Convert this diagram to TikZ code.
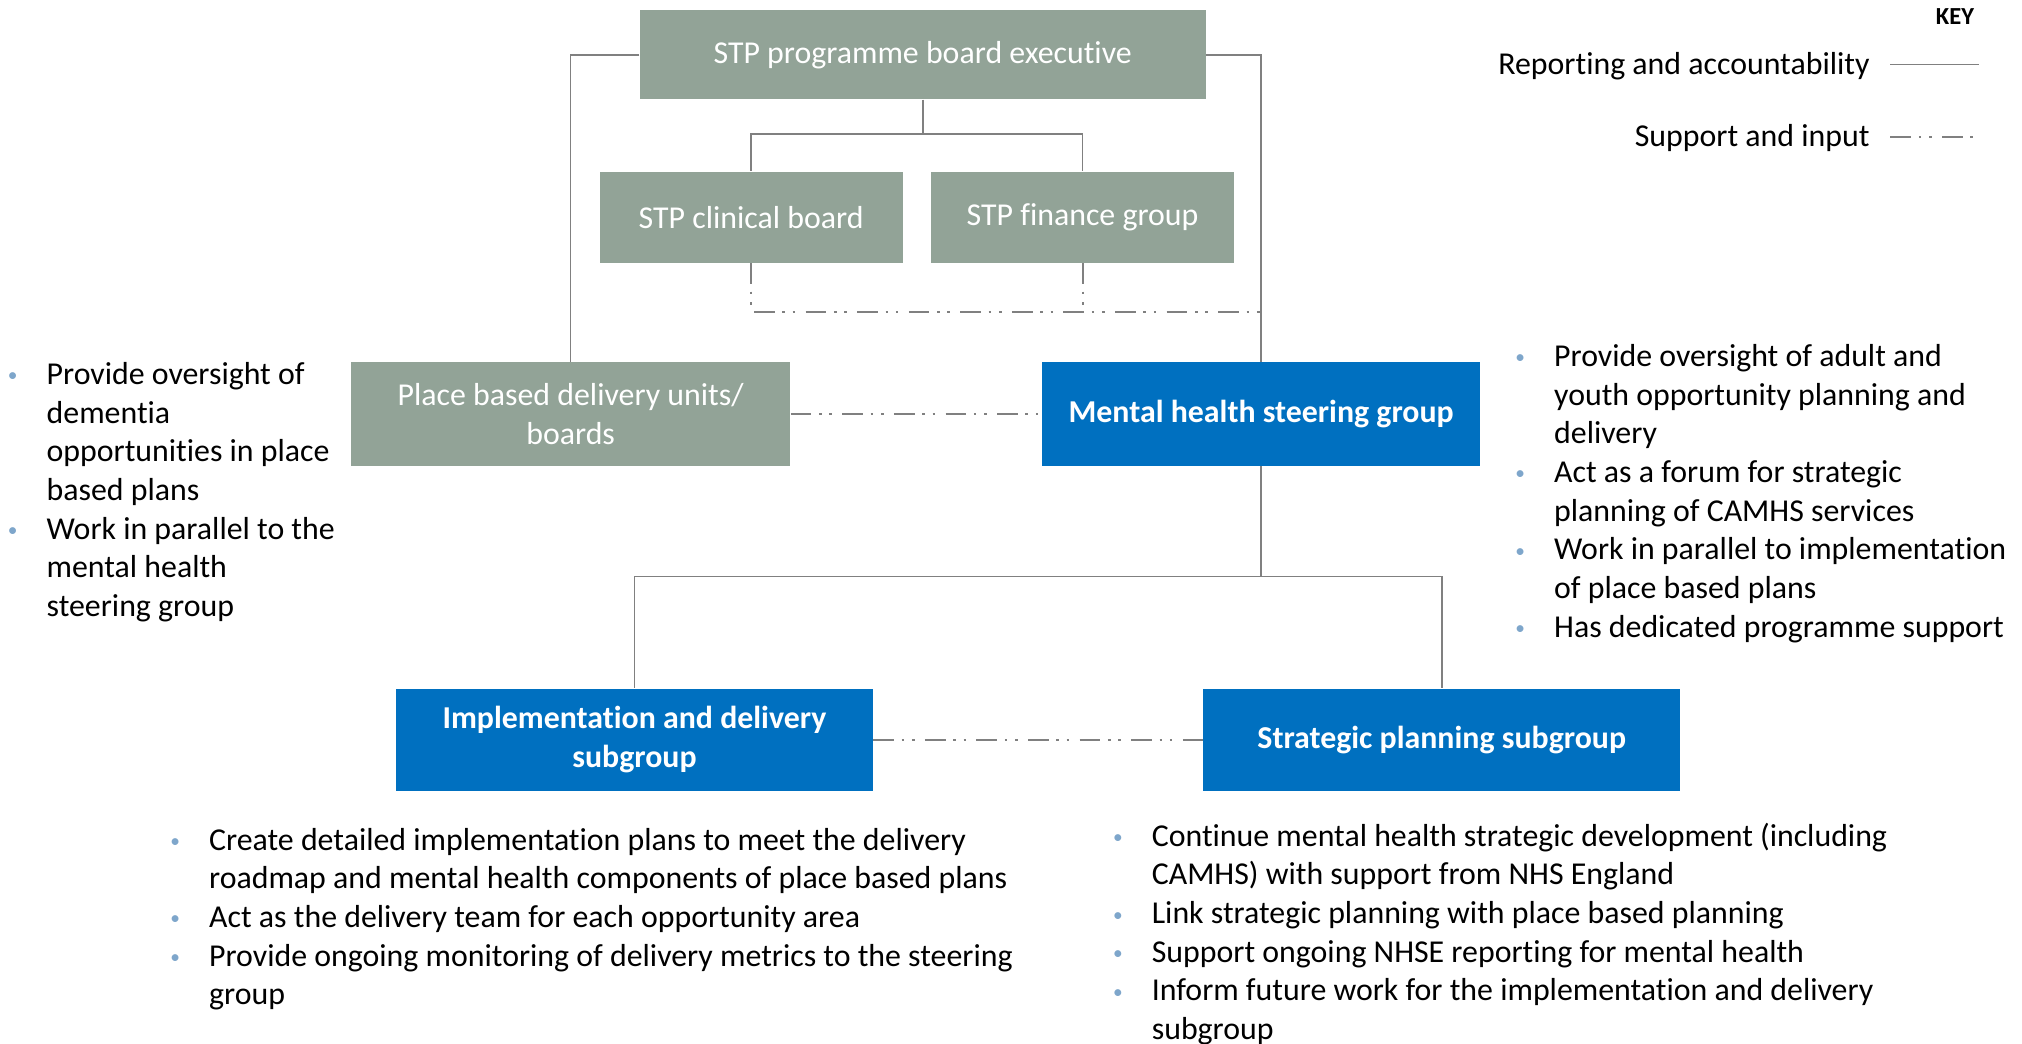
\documentclass[tikz,border=0pt]{standalone}
\usepackage{fontspec}
\setmainfont{Carlito}[Ligatures={NoCommon}]
\usepackage{array}
\definecolor{boxgray}{HTML}{92A397}
\definecolor{nhsblue}{HTML}{0070C0}
\definecolor{linegray}{HTML}{808080}
\definecolor{bulletc}{HTML}{7EA6CB}
\newcommand{\bulmark}{\textcolor{bulletc}{\raisebox{2pt}{\fontsize{15}{15}\selectfont •}}}
\tikzset{
  gbox/.style={fill=boxgray, text=white, inner sep=0pt, align=center, font=\fontsize{24.7}{30}\selectfont},
  bbox/.style={fill=nhsblue, text=white, inner sep=0pt, align=center, font=\fontsize{24.7}{30}\selectfont\bfseries},
  rep/.style={draw=linegray, line width=1.3pt},
  sup/.style={draw=linegray, line width=1.6pt, dash pattern=on 16pt off 6pt on 2pt off 6pt on 2pt off 8pt},
  bullets/.style={anchor=north west, inner sep=0pt, align=left, font=\fontsize{24.7}{30}\selectfont},
  keytext/.style={anchor=east, inner sep=0pt, font=\fontsize{24.7}{30}\selectfont},
}
\begin{document}
\begin{tikzpicture}[x=1pt, y=-1pt]
\useasboundingbox[fill=white] (0,0) rectangle (1568,809);

% boxes
\node[gbox, minimum width=439pt, minimum height=69pt] (exec) at (715.5,42.5) {STP programme board executive};
\node[gbox, minimum width=235pt, minimum height=71pt] (clin) at (582.5,168.5) {STP clinical board};
\node[gbox, minimum width=235pt, minimum height=71pt] (fin) at (839.5,168.5) {STP finance group};
\node[gbox, minimum width=341pt, minimum height=80pt] (place) at (442.5,321) {Place based delivery units/\\boards};
\node[bbox, minimum width=340pt, minimum height=80pt] (mh) at (978,321) {Mental health steering group};
\node[bbox, minimum width=370pt, minimum height=79pt] (impl) at (492,573.5) {Implementation and delivery\\subgroup};
\node[bbox, minimum width=370pt, minimum height=79pt] (strat) at (1118,573.5) {Strategic planning subgroup};

% junctions
\coordinate (t1) at (715.5,104);
\coordinate (j1) at (978,242);
\coordinate (t2) at (978,447);

% reporting lines
\draw[rep] (exec.west) -| (place.north);
\draw[rep] (exec.east) -| (mh.north);
\draw[rep] (exec.south) -- (t1);
\draw[rep] (t1) -| (clin.north);
\draw[rep] (t1) -| (fin.north);
\draw[rep] (mh.south) -- (t2);
\draw[rep] (t2) -| (impl.north);
\draw[rep] (t2) -| (strat.north);

% support lines
\draw[sup] (clin.south) |- (j1);
\draw[sup] (fin.south) -- (fin.south |- j1);
\draw[sup] (place.east) -- (mh.west);
\draw[sup] (impl.east) -- (strat.west);

% key
\node[anchor=east, inner sep=0pt, font=\fontsize{19}{22}\selectfont\bfseries] (key) at (1531,13) {KEY};
\node[keytext] (k1) at (1450,51) {Reporting and accountability};
\node[keytext] (k2) at (1450,107) {Support and input};
\coordinate (k1a) at (1466,50);
\coordinate (k1b) at (1535,50);
\coordinate (k2a) at (1466,106);
\coordinate (k2b) at (1530,106);
\draw[rep] (k1a) -- (k1b);
\draw[sup] (k2a) -- (k2b);

% bullet texts
\node[bullets] (lefttext) at (6,277) {\begin{tabular}{@{}p{30pt}@{}l@{}}
\bulmark & Provide oversight of\\
 & dementia\\
 & opportunities in place\\
 & based plans\\
\bulmark & Work in parallel to the\\
 & mental health\\
 & steering group
\end{tabular}};

\node[bullets] (righttext) at (1175,263) {\begin{tabular}{@{}p{30pt}@{}l@{}}
\bulmark & Provide oversight of adult and\\
 & youth opportunity planning and\\
 & delivery\\
\bulmark & Act as a forum for strategic\\
 & planning of CAMHS services\\
\bulmark & Work in parallel to implementation\\
 & of place based plans\\
\bulmark & Has dedicated programme support
\end{tabular}};

\node[bullets] (impltext) at (132,638) {\begin{tabular}{@{}p{30pt}@{}l@{}}
\bulmark & Create detailed implementation plans to meet the delivery\\
 & roadmap and mental health components of place based plans\\
\bulmark & Act as the delivery team for each opportunity area\\
\bulmark & Provide ongoing monitoring of delivery metrics to the steering\\
 & group
\end{tabular}};

\node[bullets] (strattext) at (863,635) {\begin{tabular}{@{}p{30pt}@{}l@{}}
\bulmark & Continue mental health strategic development (including\\
 & CAMHS) with support from NHS England\\
\bulmark & Link strategic planning with place based planning\\
\bulmark & Support ongoing NHSE reporting for mental health\\
\bulmark & Inform future work for the implementation and delivery\\
 & subgroup
\end{tabular}};
\end{tikzpicture}
\end{document}
